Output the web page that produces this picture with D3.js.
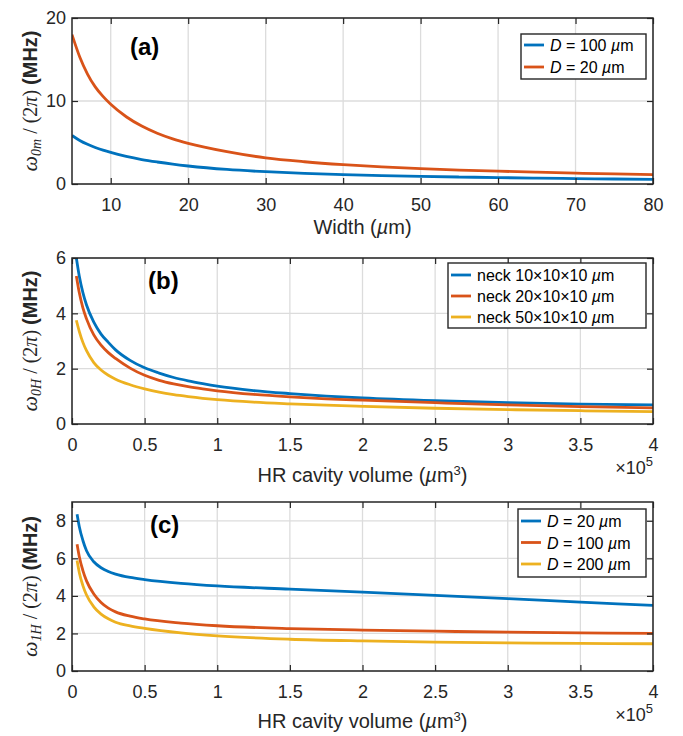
<!DOCTYPE html>
<html><head><meta charset="utf-8">
<script src="https://cdn.jsdelivr.net/npm/d3@7"></script>
<style>body{margin:0;background:#fff} svg{display:block}</style>
</head><body><svg id="chart" width="683" height="736"></svg>
<script>
// ---------- DATA ----------
// Panel (a): x = Width (µm)
const widthA = [5,6,7,8,9,10,12,14,16,18,20,25,30,35,40,45,50,55,60,65,70,75,80];
const aD100 = [5.85,5.25,4.78,4.4,4.08,3.8,3.33,2.95,2.65,2.39,2.17,1.75,1.48,1.29,1.14,1.02,0.92,0.84,0.77,0.71,0.655,0.6,0.55];
const aD20  = [18.0,15.3,13.25,11.7,10.55,9.6,8.1,6.98,6.12,5.44,4.9,3.9,3.15,2.68,2.33,2.06,1.85,1.68,1.54,1.42,1.31,1.22,1.14];
const aLegend = ["D = 100 µm", "D = 20 µm"];

// Panel (b): x = HR cavity volume (×1e5 µm³)
const volB = [0.03,0.05,0.075,0.1,0.15,0.2,0.25,0.3,0.4,0.5,0.6,0.7,0.8,0.9,1.0,1.25,1.5,1.75,2.0,2.5,3.0,3.5,4.0];
const bNeck10 = [6.0,5.35,4.75,4.3,3.68,3.25,2.95,2.68,2.3,2.03,1.84,1.68,1.56,1.46,1.37,1.21,1.1,1.01,0.94,0.84,0.77,0.72,0.69];
const bNeck20 = [5.35,4.75,4.2,3.8,3.22,2.85,2.58,2.37,2.02,1.76,1.58,1.45,1.35,1.27,1.2,1.07,0.98,0.91,0.86,0.77,0.69,0.63,0.58];
const bNeck50 = [3.75,3.35,2.95,2.65,2.22,1.95,1.76,1.62,1.42,1.27,1.15,1.06,0.99,0.93,0.88,0.79,0.73,0.68,0.64,0.57,0.52,0.48,0.45];
const bLegend = ["neck 10×10×10", "neck 20×10×10", "neck 50×10×10"];

// Panel (c)
const volC = [0.035,0.05,0.075,0.1,0.15,0.2,0.25,0.3,0.4,0.5,0.75,1.0,1.5,2.0,2.5,3.0,3.5,4.0];
const cD20  = [8.35,7.7,6.95,6.4,5.82,5.5,5.3,5.16,4.98,4.87,4.67,4.53,4.36,4.2,4.03,3.85,3.67,3.49];
const cD100 = [6.75,6.1,5.35,4.8,4.1,3.65,3.35,3.15,2.92,2.77,2.55,2.41,2.26,2.18,2.12,2.07,2.03,2.0];
const cD200 = [5.88,5.25,4.55,4.05,3.42,3.03,2.78,2.6,2.4,2.27,2.03,1.87,1.69,1.6,1.54,1.5,1.47,1.45];
const cLegend = ["D = 20 µm", "D = 100 µm", "D = 200 µm"];

const xTicksA = [10,20,30,40,50,60,70,80];
const xTicksBC = [0,0.5,1,1.5,2,2.5,3,3.5,4];
const yTicksA = [0,10,20];
const yTicksB = [0,2,4,6];
const yTicksC = [0,2,4,6,8];
const colors = ["#0072BD","#D95319","#EDB120"];

// ---------- DRAW ----------
const svg = d3.select("#chart");
const INK = "#262626";
const SANS = "'Liberation Sans', Arial, Helvetica, sans-serif";
const SERIF = "'Liberation Serif', 'DejaVu Serif', serif";
const L = 72, R = 653;

function panel(cfg, idx){
  const g = svg.append("g");
  const x = d3.scaleLinear().domain(cfg.xDomain).range([L, R]);
  const y = d3.scaleLinear().domain(cfg.yDomain).range([cfg.bottom, cfg.top]);
  const clipId = "clip" + idx;
  svg.append("clipPath").attr("id", clipId).append("rect")
    .attr("x", L).attr("y", cfg.top).attr("width", R - L).attr("height", cfg.bottom - cfg.top);

  // grid
  g.append("g").selectAll("line").data(cfg.xTicks).join("line")
    .attr("x1", d => x(d)).attr("x2", d => x(d)).attr("y1", cfg.top).attr("y2", cfg.bottom)
    .attr("stroke", "#dcdcdc").attr("stroke-width", 1.3);
  g.append("g").selectAll("line").data(cfg.yTicks).join("line")
    .attr("y1", d => y(d)).attr("y2", d => y(d)).attr("x1", L).attr("x2", R)
    .attr("stroke", "#dcdcdc").attr("stroke-width", 1.3);

  // lines
  const line = d3.line().x(d => x(d[0])).y(d => y(d[1])).curve(d3.curveMonotoneX);
  cfg.series.forEach((s, i) => {
    g.append("path").datum(cfg.xs.map((v, k) => [v, s[k]]))
      .attr("d", line).attr("fill", "none").attr("stroke", colors[i])
      .attr("stroke-width", 2.8).attr("stroke-linejoin", "round").attr("clip-path", `url(#${clipId})`);
  });

  // axes (D3 axes, inward ticks, no domain)
  const tl = 6;
  const axB = g.append("g").attr("transform", `translate(0,${cfg.bottom})`)
    .call(d3.axisBottom(x).tickValues(cfg.xTicks).tickSize(-tl).tickPadding(tl + 8).tickFormat(d3.format("~g")));
  const axT = g.append("g").attr("transform", `translate(0,${cfg.top})`)
    .call(d3.axisTop(x).tickValues(cfg.xTicks).tickSize(-tl).tickFormat(""));
  const axL = g.append("g").attr("transform", `translate(${L},0)`)
    .call(d3.axisLeft(y).tickValues(cfg.yTicks).tickSize(-tl).tickPadding(6).tickFormat(d3.format("~g")));
  const axR = g.append("g").attr("transform", `translate(${R},0)`)
    .call(d3.axisRight(y).tickValues(cfg.yTicks).tickSize(-tl).tickFormat(""));
  [axB, axT, axL, axR].forEach(a => {
    a.select(".domain").remove();
    a.selectAll(".tick line").attr("stroke", INK).attr("stroke-width", 1.2);
    a.selectAll(".tick text").attr("fill", INK).style("font-family", SANS).style("font-size", "18px");
  });
  axB.selectAll(".tick text").attr("dy", null).attr("y", 27).attr("dominant-baseline", "auto");
  axL.selectAll(".tick text").attr("x", -6);

  // box
  g.append("rect").attr("x", L).attr("y", cfg.top).attr("width", R - L).attr("height", cfg.bottom - cfg.top)
    .attr("fill", "none").attr("stroke", INK).attr("stroke-width", 1.5);

  // panel label
  g.append("text").attr("x", cfg.lab[0]).attr("y", cfg.lab[1]).text(cfg.label)
    .style("font-family", SANS).style("font-weight", "bold").style("font-size", "24px").attr("fill", "#000");

  // x label
  const xl = g.append("text").attr("x", (L + R) / 2).attr("y", cfg.bottom + cfg.xlabDy)
    .attr("text-anchor", "middle").attr("fill", INK).style("font-family", SANS).style("font-size", "20px");
  cfg.xlabel(xl);
  if (cfg.exp) {
    const ex = g.append("text").attr("x", R).attr("y", cfg.bottom + 50).attr("text-anchor", "end")
      .attr("fill", INK).style("font-family", SANS).style("font-size", "18px");
    ex.append("tspan").text("×10");
    ex.append("tspan").attr("dy", -8).style("font-size", "13px").text("5");
  }

  // y label
  const yl = g.append("text").attr("transform", `translate(37,${(cfg.top + cfg.bottom) / 2}) rotate(-90)`)
    .attr("text-anchor", "middle").attr("fill", INK).style("font-size", "20px");
  yl.append("tspan").style("font-family", SERIF).style("font-style", "italic").style("font-size", "22px").text("ω");
  yl.append("tspan").style("font-family", SERIF).style("font-style", "italic").style("font-size", "14px").attr("dy", 4).text(cfg.ysub);
  yl.append("tspan").style("font-family", SERIF).attr("dy", -4).text(" / (2");
  yl.append("tspan").style("font-family", SERIF).style("font-style", "italic").text("π");
  yl.append("tspan").style("font-family", SERIF).text(") ");
  yl.append("tspan").style("font-family", SANS).style("font-weight", "bold").text("(MHz)");

  // legend
  const lg = cfg.legend;
  g.append("rect").attr("x", lg.x).attr("y", lg.y).attr("width", lg.w).attr("height", lg.h)
    .attr("fill", "#fff").attr("stroke", INK).attr("stroke-width", 1.4);
  cfg.legendText.forEach((t, i) => {
    const yy = lg.y + lg.first + i * lg.step;
    g.append("line").attr("x1", lg.x + 3).attr("x2", lg.x + 23).attr("y1", yy).attr("y2", yy)
      .attr("stroke", colors[i]).attr("stroke-width", 2.8);
    const tx = g.append("text").attr("x", lg.x + 29).attr("y", yy + 6).attr("fill", "#000")
      .style("font-family", SANS).style("font-size", "16px");
    lg.fmt(tx, t);
  });
}

function fmtD(tx, t){
  const m = t.match(/^D = (\d+) µm$/);
  tx.append("tspan").style("font-style", "italic").text("D");
  tx.append("tspan").text(" = " + m[1] + "  ");
  tx.append("tspan").style("font-style", "italic").text("µ");
  tx.append("tspan").text("m");
}
function fmtNeck(tx, t){
  tx.append("tspan").text(t + " ");
  tx.append("tspan").style("font-style", "italic").text("µ");
  tx.append("tspan").text("m");
}
function volLabel(t){
  t.append("tspan").text("HR cavity volume (");
  t.append("tspan").style("font-style", "italic").text("µ");
  t.append("tspan").text("m");
  t.append("tspan").attr("dy", -7).style("font-size", "13px").text("3");
  t.append("tspan").attr("dy", 7).text(")");
}

panel({xDomain:[5,80], yDomain:[0,20], top:18, bottom:184, xTicks:xTicksA, yTicks:yTicksA,
  xs: widthA, series:[aD100, aD20], label:"(a)", lab:[130,55], ysub:"0m", xlabDy:50,
  xlabel: t => { t.append("tspan").text("Width ("); t.append("tspan").style("font-style","italic").text("µ"); t.append("tspan").text("m)"); },
  legend:{x:521, y:34, w:125, h:45, first:11, step:22, fmt:fmtD}, legendText:aLegend}, 0);

panel({xDomain:[0,4], yDomain:[0,6], top:258, bottom:424, xTicks:xTicksBC, yTicks:yTicksB,
  xs: volB, series:[bNeck10, bNeck20, bNeck50], label:"(b)", lab:[148,289], ysub:"0H", xlabDy:58, exp:true,
  xlabel: volLabel,
  legend:{x:448, y:263, w:198, h:65, first:12, step:21, fmt:fmtNeck}, legendText:bLegend}, 1);

panel({xDomain:[0,4], yDomain:[0,9], top:502, bottom:671, xTicks:xTicksBC, yTicks:yTicksC,
  xs: volC, series:[cD20, cD100, cD200], label:"(c)", lab:[150,533], ysub:"1H", xlabDy:57, exp:true,
  xlabel: volLabel,
  legend:{x:518, y:509, w:128, h:68, first:12, step:21.5, fmt:fmtD}, legendText:cLegend}, 2);
</script>
</body></html>
